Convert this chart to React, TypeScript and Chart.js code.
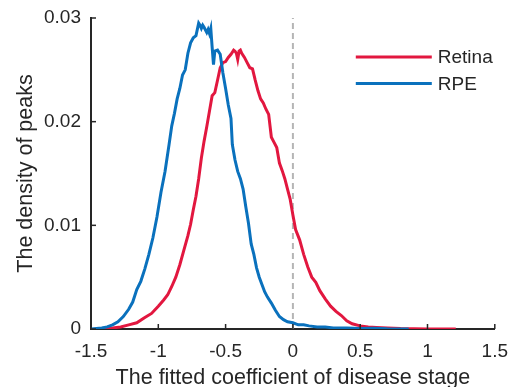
import React, { useEffect, useRef } from "react";
import { Chart, registerables } from "chart.js";

Chart.register(...registerables);

const seriesNames = ["Retina", "RPE"];

const retinaX = [-1.46, -1.40, -1.34, -1.28, -1.22, -1.16, -1.10, -1.05, -1.00, -0.96, -0.93, -0.90, -0.87, -0.84, -0.81, -0.78, -0.76, -0.74, -0.72, -0.70, -0.68, -0.66, -0.64, -0.62, -0.60, -0.58, -0.56, -0.54, -0.52, -0.50, -0.48, -0.46, -0.44, -0.43, -0.42, -0.41, -0.40, -0.39, -0.38, -0.36, -0.34, -0.32, -0.30, -0.28, -0.26, -0.24, -0.22, -0.20, -0.18, -0.16, -0.14, -0.12, -0.10, -0.08, -0.06, -0.04, -0.02, 0.00, 0.02, 0.05, 0.08, 0.11, 0.14, 0.17, 0.20, 0.24, 0.28, 0.32, 0.36, 0.40, 0.44, 0.50, 0.56, 0.62, 0.70, 0.80, 0.90, 1.00, 1.10, 1.21];
const retinaY = [0, 0.00003, 0.0001, 0.0002, 0.0004, 0.0006, 0.0011, 0.0015, 0.0022, 0.0028, 0.0033, 0.0041, 0.0050, 0.0062, 0.0076, 0.0090, 0.0101, 0.0115, 0.0128, 0.0145, 0.0165, 0.0181, 0.0195, 0.0210, 0.0225, 0.0228, 0.0240, 0.0252, 0.0257, 0.0258, 0.0262, 0.0265, 0.0269, 0.0268, 0.0266, 0.0260, 0.0268, 0.0269, 0.0266, 0.0262, 0.0257, 0.0252, 0.0251, 0.0240, 0.0230, 0.0222, 0.0218, 0.0212, 0.0207, 0.0185, 0.0180, 0.0175, 0.0160, 0.0153, 0.0145, 0.0135, 0.0125, 0.0110, 0.0096, 0.0086, 0.0072, 0.0060, 0.0050, 0.0045, 0.0037, 0.0029, 0.0022, 0.0017, 0.0013, 0.0008, 0.0005, 0.0003, 0.0002, 0.00015, 0.0001, 0.00004, 0.00002, 0.00001, 0, 0];

const rpeX = [-1.50, -1.46, -1.42, -1.38, -1.34, -1.30, -1.26, -1.22, -1.19, -1.16, -1.13, -1.10, -1.07, -1.04, -1.01, -0.98, -0.95, -0.92, -0.90, -0.88, -0.86, -0.84, -0.82, -0.80, -0.78, -0.76, -0.74, -0.72, -0.70, -0.69, -0.68, -0.67, -0.66, -0.64, -0.63, -0.62, -0.61, -0.60, -0.59, -0.58, -0.56, -0.54, -0.52, -0.50, -0.48, -0.46, -0.45, -0.43, -0.41, -0.39, -0.37, -0.35, -0.33, -0.31, -0.29, -0.27, -0.25, -0.23, -0.21, -0.19, -0.16, -0.13, -0.10, -0.07, -0.04, 0.00, 0.04, 0.08, 0.12, 0.18, 0.24, 0.30, 0.40, 0.50, 0.60, 0.70, 0.86];
const rpeY = [0, 0.00005, 0.0001, 0.0002, 0.0004, 0.0007, 0.0012, 0.0019, 0.0026, 0.0038, 0.0046, 0.0058, 0.0072, 0.0088, 0.0108, 0.0132, 0.0152, 0.0178, 0.0196, 0.0208, 0.0222, 0.0232, 0.0245, 0.0250, 0.0266, 0.0276, 0.0281, 0.0283, 0.0295, 0.0293, 0.0290, 0.0293, 0.0291, 0.0286, 0.0289, 0.0285, 0.0290, 0.0272, 0.0255, 0.0268, 0.0269, 0.0265, 0.0247, 0.0232, 0.0216, 0.0203, 0.0178, 0.0163, 0.0152, 0.0145, 0.0135, 0.0118, 0.0102, 0.0082, 0.0072, 0.0059, 0.0050, 0.0043, 0.0036, 0.0031, 0.0025, 0.0018, 0.0012, 0.0009, 0.0007, 0.0006, 0.0004, 0.0004, 0.0003, 0.0002, 0.0002, 0.0001, 0.0001, 0.00005, 0.00008, 0.00003, 0];

const refLineX = [0, 0];
const refLineY = [0, 0.03];

const xTicks = [-1.5, -1, -0.5, 0, 0.5, 1, 1.5];
const yTicks = [0, 0.01, 0.02, 0.03];
const xTickLabels = ["-1.5", "-1", "-0.5", "0", "0.5", "1", "1.5"];
const yTickLabels = ["0", "0.01", "0.02", "0.03"];

const xTitle = "The fitted coefficient of disease stage";
const yTitle = "The density of peaks";

const RED = "#e2173f";
const BLUE = "#0a71bd";
const INK = "#262626";
const FONT = "'Liberation Sans', Arial, Helvetica, sans-serif";

const zip = (xs: number[], ys: number[]) => xs.map((x, i) => ({ x, y: ys[i] }));

const inwardTicks = {
  id: "inwardTicks",
  afterDraw(chart: any) {
    const { ctx, chartArea, scales } = chart;
    ctx.save();
    ctx.strokeStyle = INK;
    ctx.lineWidth = 1.5;
    const len = 5;
    xTicks.forEach((v) => {
      const px = scales.x.getPixelForValue(v);
      ctx.beginPath();
      ctx.moveTo(px, chartArea.bottom);
      ctx.lineTo(px, chartArea.bottom - len);
      ctx.stroke();
    });
    yTicks.forEach((v) => {
      const py = scales.y.getPixelForValue(v);
      ctx.beginPath();
      ctx.moveTo(chartArea.left, py);
      ctx.lineTo(chartArea.left + len, py);
      ctx.stroke();
    });
    ctx.restore();
  },
};

const insideLegend = {
  id: "insideLegend",
  afterDraw(chart: any) {
    const { ctx, chartArea } = chart;
    const items = chart.data.datasets.filter((d: any) => seriesNames.includes(d.label));
    ctx.save();
    ctx.font = `19px ${FONT}`;
    ctx.textBaseline = "middle";
    ctx.textAlign = "left";
    items.forEach((d: any, i: number) => {
      const y = chartArea.top + 39 + i * 26.5;
      const x0 = chartArea.right - 139;
      ctx.strokeStyle = d.borderColor;
      ctx.lineWidth = 3;
      ctx.beginPath();
      ctx.moveTo(x0, y);
      ctx.lineTo(x0 + 76, y);
      ctx.stroke();
      ctx.fillStyle = INK;
      ctx.fillText(d.label, x0 + 82, y + 1);
    });
    ctx.restore();
  },
};

export default function App() {
  const ref = useRef<HTMLCanvasElement | null>(null);
  useEffect(() => {
    if (!ref.current) return;
    const chart = new Chart(ref.current, {
      type: "line",
      data: {
        datasets: [
          {
            label: seriesNames[0],
            data: zip(retinaX, retinaY),
            borderColor: RED,
            borderWidth: 3,
            pointRadius: 0,
            tension: 0,
            order: 1,
          },
          {
            label: seriesNames[1],
            data: zip(rpeX, rpeY),
            borderColor: BLUE,
            borderWidth: 3,
            pointRadius: 0,
            tension: 0,
            order: 0,
          },
          {
            label: "zero",
            data: zip(refLineX, refLineY),
            borderColor: "#b5b5b5",
            borderWidth: 2,
            borderDash: [6, 4],
            pointRadius: 0,
            order: 2,
          },
        ],
      },
      options: {
        animation: false,
        responsive: false,
        events: [],
        layout: { padding: { left: 0, right: 4, top: 18, bottom: 0 } },
        plugins: { legend: { display: false }, tooltip: { enabled: false } },
        scales: {
          x: {
            type: "linear",
            min: -1.5,
            max: 1.5,
            afterBuildTicks: (s: any) => {
              s.ticks = xTicks.map((v) => ({ value: v }));
            },
            afterFit: (s: any) => {
              s.height = 58;
            },
            grid: { display: false },
            border: { display: true, color: INK, width: 2 },
            ticks: {
              color: INK,
              font: { family: FONT, size: 19 },
              padding: 3,
              maxRotation: 0,
              autoSkip: false,
              callback: (v: any) => {
                const i = xTicks.findIndex((t) => Math.abs(t - v) < 1e-9);
                return i >= 0 ? xTickLabels[i] : "";
              },
            },
            title: {
              display: true,
              text: xTitle,
              color: INK,
              font: { family: FONT, size: 21.5 },
              padding: { top: 0, bottom: -4 },
            },
          },
          y: {
            min: 0,
            max: 0.03,
            afterBuildTicks: (s: any) => {
              s.ticks = yTicks.map((v) => ({ value: v }));
            },
            afterFit: (s: any) => {
              s.width = 91;
            },
            grid: { display: false },
            border: { display: true, color: INK, width: 2 },
            ticks: {
              color: INK,
              font: { family: FONT, size: 19 },
              padding: 2,
              autoSkip: false,
              callback: (v: any) => {
                const i = yTicks.findIndex((t) => Math.abs(t - v) < 1e-9);
                return i >= 0 ? yTickLabels[i] : "";
              },
            },
            title: {
              display: true,
              text: yTitle,
              color: INK,
              font: { family: FONT, size: 21.5 },
              padding: { top: 13.5, bottom: 0 },
            },
          },
        },
      },
      plugins: [inwardTicks, insideLegend],
    });
    return () => chart.destroy();
  }, []);
  return (
    <div style={{ position: "fixed", left: 0, top: 0, width: 511, height: 387, background: "#fff" }}>
      <canvas ref={ref} width={511} height={387} />
    </div>
  );
}
